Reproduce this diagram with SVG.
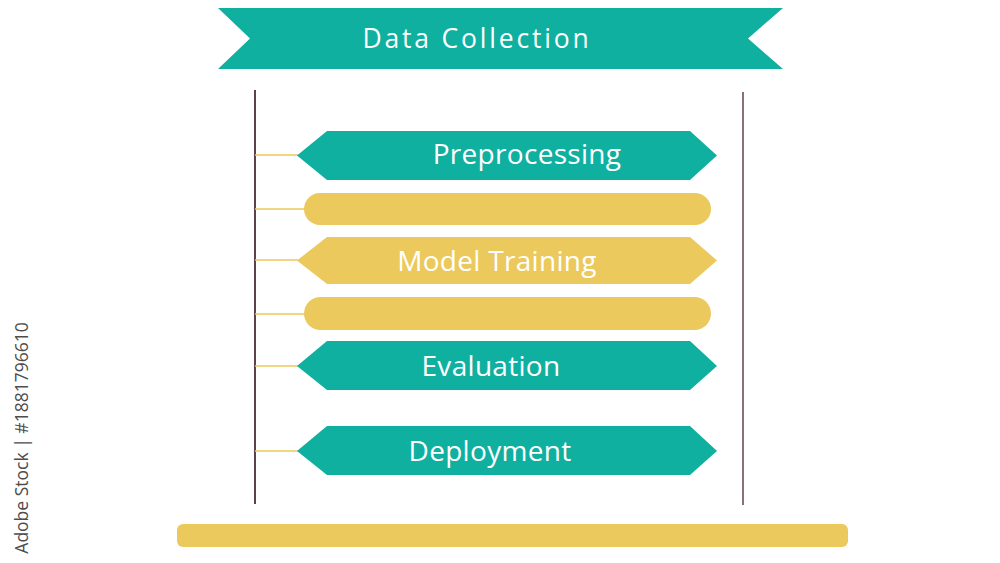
<svg xmlns="http://www.w3.org/2000/svg" width="1000" height="563" viewBox="0 0 1000 563">
<style>
.teal{fill:#0fb09f}
.yel{fill:#ecc95c}
.lbl{font-family:"Open Sans","Noto Sans","Liberation Sans",sans-serif;fill:#ffffff;text-anchor:middle}
.step{font-size:28px;letter-spacing:0.3px}
.conn{stroke:#ecc95c;stroke-width:1.5;fill:none}
.axis{stroke-width:1.8;fill:none}
</style>
<rect width="1000" height="563" fill="#ffffff"/>
<g id="title">
<polygon class="teal" points="218,8 783,8 748,38.5 783,69 218,69 250,38.5"/>
<text class="lbl" x="477" y="48" font-size="26.5" letter-spacing="2.8">Data Collection</text>
</g>
<g id="axes">
<line class="axis" x1="255" y1="90" x2="255" y2="504" stroke="#4a2e36"/>
<line class="axis" x1="743" y1="92" x2="743" y2="505" stroke="#7a6266"/>
</g>
<g id="connectors">
<line class="conn" x1="255" y1="155" x2="298" y2="155"/>
<line class="conn" x1="255" y1="209" x2="305" y2="209"/>
<line class="conn" x1="255" y1="260" x2="298" y2="260"/>
<line class="conn" x1="255" y1="314" x2="305" y2="314"/>
<line class="conn" x1="255" y1="366" x2="298" y2="366"/>
<line class="conn" x1="255" y1="451" x2="298" y2="451"/>
</g>
<g id="preprocessing">
<polygon class="teal" points="297,155.5 327,131 690,131 717,155.5 690,180 327,180"/>
<text class="lbl step" x="527" y="163.5">Preprocessing</text>
</g>
<g id="bar1">
<rect class="yel" x="304" y="193" width="407" height="32" rx="16"/>
</g>
<g id="model-training">
<polygon class="yel" points="297,260.5 327,237 690,237 717,260.5 690,284 327,284"/>
<text class="lbl step" x="497" y="271">Model Training</text>
</g>
<g id="bar2">
<rect class="yel" x="304" y="297" width="407" height="33" rx="16.5"/>
</g>
<g id="evaluation">
<polygon class="teal" points="297,366 327,341 690,341 717,366 690,390 327,390"/>
<text class="lbl step" x="491" y="375.5">Evaluation</text>
</g>
<g id="deployment">
<polygon class="teal" points="297,451 327,426 690,426 717,451 690,475 327,475"/>
<text class="lbl step" x="490" y="460.5">Deployment</text>
</g>
<g id="base">
<rect class="yel" x="177" y="524" width="671" height="23" rx="6"/>
</g>
<text x="28" y="438" transform="rotate(-90 28 438)" font-family="'Open Sans','Noto Sans','Liberation Sans',sans-serif" font-size="17.5" fill="#4d4d4d" text-anchor="middle">Adobe Stock | #1881796610</text>
</svg>
